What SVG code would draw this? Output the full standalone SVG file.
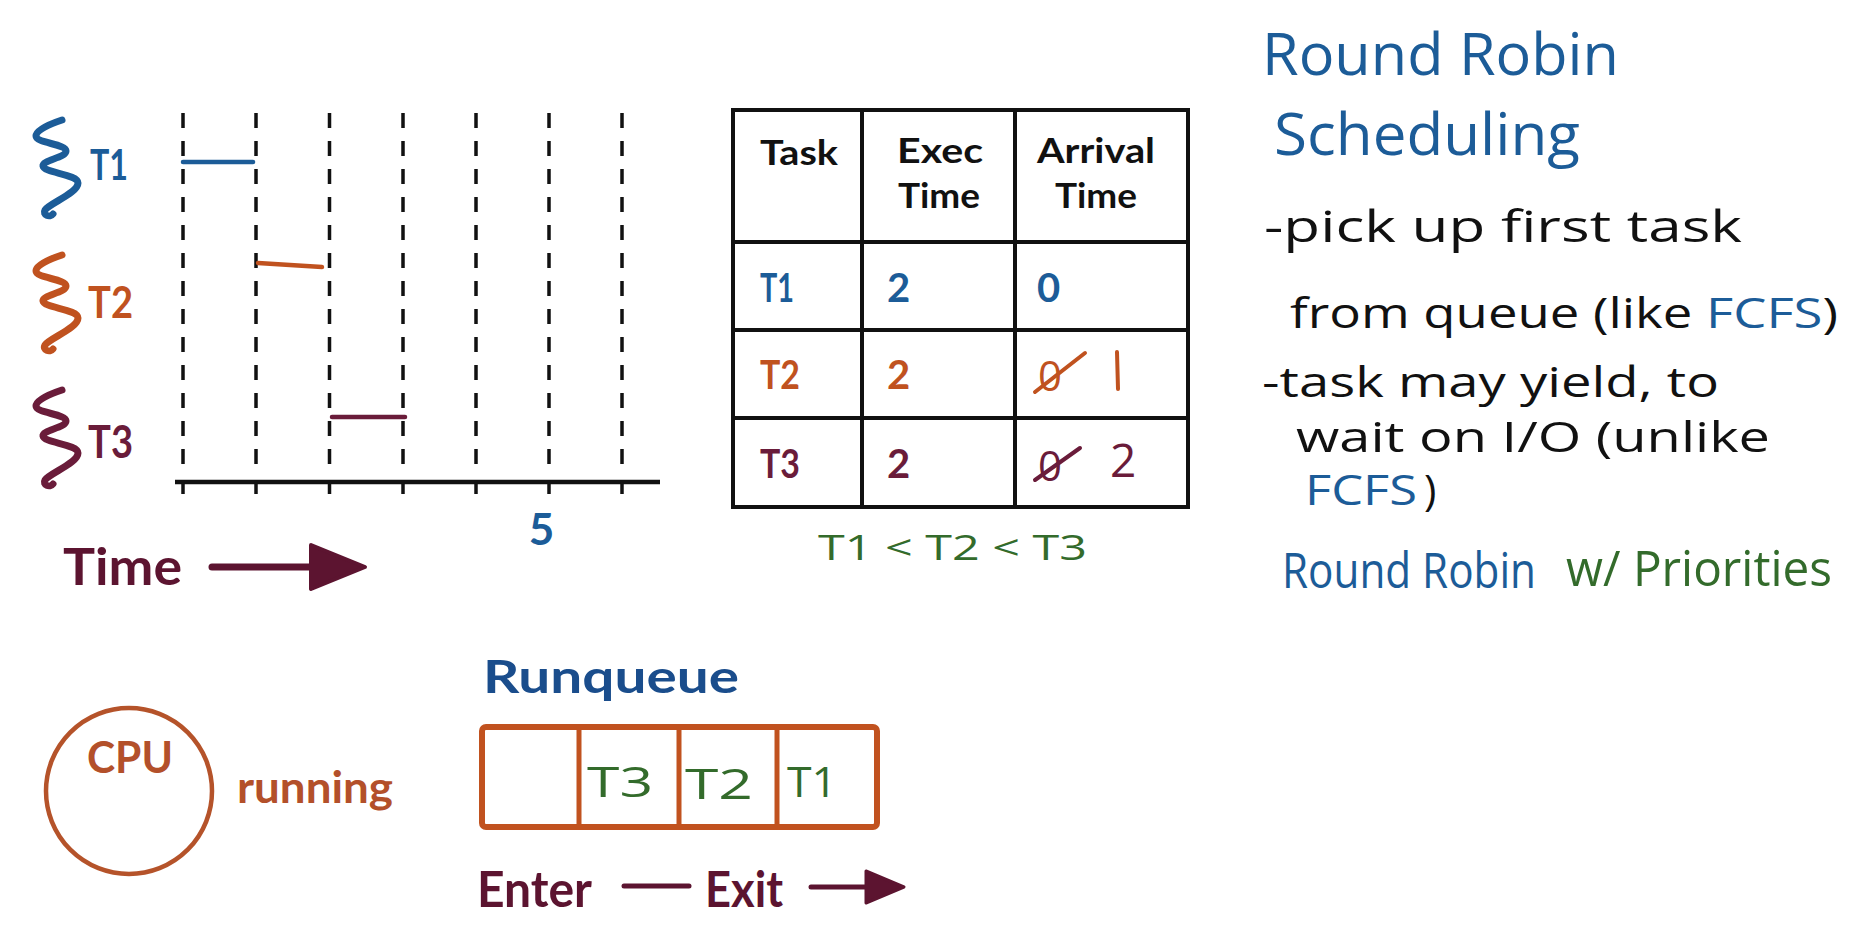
<svg xmlns="http://www.w3.org/2000/svg" width="1853" height="944" viewBox="0 0 1853 944">
<style>
.bold{font-family:Lato,"Open Sans","Liberation Sans",sans-serif;font-weight:700}
.hand{font-family:"Open Sans","Noto Sans","Liberation Sans",sans-serif;font-weight:400}
.blue{fill:#1c5c98}
.dblue{fill:#1a4d8c}
.orange{fill:#c0521f}
.maroon{fill:#6a1c3a}
.dmaroon{fill:#5c1430}
.green{fill:#336b2b}
.black{fill:#111}
.dash{stroke:#111;stroke-width:3.5;stroke-dasharray:15 13;fill:none}
.tick{stroke:#111;stroke-width:3.5}
.squig{fill:none;stroke-width:7;stroke-linecap:round;stroke-linejoin:round}
.grid{stroke:#111;stroke-width:4;fill:none}
</style>
<rect width="1853" height="944" fill="#fff"/>

<!-- Timeline chart -->
<g id="chart">
  <line class="dash" x1="183" y1="113" x2="183" y2="467"/>
  <line class="dash" x1="256" y1="113" x2="256" y2="467"/>
  <line class="dash" x1="329.5" y1="113" x2="329.5" y2="467"/>
  <line class="dash" x1="403" y1="113" x2="403" y2="467"/>
  <line class="dash" x1="476" y1="113" x2="476" y2="467"/>
  <line class="dash" x1="549" y1="113" x2="549" y2="467"/>
  <line class="dash" x1="622" y1="113" x2="622" y2="467"/>
  <line x1="175" y1="482" x2="660" y2="482" stroke="#111" stroke-width="4.5"/>
  <line class="tick" x1="183" y1="482" x2="183" y2="494"/>
  <line class="tick" x1="256" y1="482" x2="256" y2="494"/>
  <line class="tick" x1="329.5" y1="482" x2="329.5" y2="494"/>
  <line class="tick" x1="403" y1="482" x2="403" y2="494"/>
  <line class="tick" x1="476" y1="482" x2="476" y2="494"/>
  <line class="tick" x1="549" y1="482" x2="549" y2="494"/>
  <line class="tick" x1="622" y1="482" x2="622" y2="494"/>
  <text class="bold blue" x="541.5" y="545" font-size="44" text-anchor="middle">5</text>
  <line x1="183" y1="162" x2="253" y2="162" stroke="#1c5c98" stroke-width="4.5" stroke-linecap="round"/>
  <line x1="258" y1="263" x2="322" y2="267" stroke="#c0521f" stroke-width="4.5" stroke-linecap="round"/>
  <line x1="332" y1="417" x2="405" y2="417" stroke="#6a1c3a" stroke-width="4.5" stroke-linecap="round"/>
</g>

<g id="thread-t1">
  <path class="squig" stroke="#1c5c98" d="M62 120 C50 124 36 130 36 136 C36 143 66 144 66 151 C66 158 42 160 43 166 C44 173 78 174 78 183 C78 193 50 203 45 210 C42 215 50 218 53 214"/>
  <text class="bold blue" x="90" y="180" font-size="42" textLength="38" lengthAdjust="spacingAndGlyphs">T1</text>
</g>
<g id="thread-t2">
  <path class="squig" stroke="#c0521f" d="M62 255 C50 259 36 265 36 271 C36 278 66 279 66 286 C66 293 42 295 43 301 C44 308 78 309 78 318 C78 328 50 338 45 345 C42 350 50 353 53 349"/>
  <text class="bold orange" x="88" y="318" font-size="43" textLength="45" lengthAdjust="spacingAndGlyphs">T2</text>
</g>
<g id="thread-t3">
  <path class="squig" stroke="#6a1c3a" d="M62 390 C50 394 36 400 36 406 C36 413 66 414 66 421 C66 428 42 430 43 436 C44 443 78 444 78 453 C78 463 50 473 45 480 C42 485 50 488 53 484"/>
  <text class="bold maroon" x="88" y="458" font-size="45" textLength="45" lengthAdjust="spacingAndGlyphs">T3</text>
</g>

<g id="time-label">
  <text class="bold dmaroon" x="63" y="585" font-size="52" textLength="119" lengthAdjust="spacingAndGlyphs">Time</text>
  <line x1="212" y1="567" x2="315" y2="567" stroke="#5c1430" stroke-width="7" stroke-linecap="round"/>
  <polygon points="311,545 365,567 311,589" fill="#5c1430" stroke="#5c1430" stroke-width="4" stroke-linejoin="round"/>
</g>

<!-- Table -->
<g id="table">
  <rect class="grid" x="733" y="110" width="455" height="397"/>
  <line class="grid" x1="862" y1="110" x2="862" y2="507"/>
  <line class="grid" x1="1015" y1="110" x2="1015" y2="507"/>
  <line class="grid" x1="733" y1="242" x2="1188" y2="242"/>
  <line class="grid" x1="733" y1="330" x2="1188" y2="330"/>
  <line class="grid" x1="733" y1="418" x2="1188" y2="418"/>
  <text class="bold black" x="760" y="165" font-size="35" textLength="78" lengthAdjust="spacingAndGlyphs">Task</text>
  <text class="bold black" x="897" y="163" font-size="35" textLength="86" lengthAdjust="spacingAndGlyphs">Exec</text>
  <text class="bold black" x="898" y="208" font-size="35" textLength="82" lengthAdjust="spacingAndGlyphs">Time</text>
  <text class="bold black" x="1037" y="163" font-size="35" textLength="118" lengthAdjust="spacingAndGlyphs">Arrival</text>
  <text class="bold black" x="1055" y="208" font-size="35" textLength="82" lengthAdjust="spacingAndGlyphs">Time</text>
  <text class="bold blue" x="760" y="302" font-size="40" textLength="34" lengthAdjust="spacingAndGlyphs">T1</text>
  <text class="bold blue" x="887" y="302" font-size="40">2</text>
  <text class="bold blue" x="1037" y="302" font-size="40">0</text>
  <text class="bold orange" x="760" y="389" font-size="40" textLength="40" lengthAdjust="spacingAndGlyphs">T2</text>
  <text class="bold orange" x="887" y="389" font-size="40">2</text>
  <text class="hand orange" x="1038" y="391" font-size="42">0</text>
  <line x1="1035" y1="392" x2="1085" y2="353" stroke="#c0521f" stroke-width="4" stroke-linecap="round"/>
  <line x1="1117" y1="352" x2="1118" y2="389" stroke="#c0521f" stroke-width="4" stroke-linecap="round"/>
  <text class="bold maroon" x="760" y="478" font-size="40" textLength="40" lengthAdjust="spacingAndGlyphs">T3</text>
  <text class="bold maroon" x="887" y="478" font-size="40">2</text>
  <text class="hand maroon" x="1038" y="481" font-size="42">0</text>
  <line x1="1035" y1="480" x2="1080" y2="448" stroke="#6a1c3a" stroke-width="4" stroke-linecap="round"/>
  <text class="hand maroon" x="1110" y="477" font-size="46">2</text>
  <text class="hand green" x="818" y="560" font-size="34" textLength="269" lengthAdjust="spacingAndGlyphs">T1 &lt; T2 &lt; T3</text>
</g>

<!-- Notes -->
<g id="notes">
  <text class="hand blue" x="1262" y="75" font-size="58" textLength="357" lengthAdjust="spacingAndGlyphs">Round Robin</text>
  <text class="hand blue" x="1274" y="155" font-size="58" textLength="306" lengthAdjust="spacingAndGlyphs">Scheduling</text>
  <text class="hand black" x="1264" y="242" font-size="44" textLength="478" lengthAdjust="spacingAndGlyphs">-pick up first task</text>
  <text class="hand black" x="1290" y="328" font-size="42" textLength="548" lengthAdjust="spacingAndGlyphs">from queue (like <tspan class="blue">FCFS</tspan>)</text>
  <text class="hand black" x="1262" y="397" font-size="42" textLength="457" lengthAdjust="spacingAndGlyphs">-task may yield, to</text>
  <text class="hand black" x="1296" y="452" font-size="42" textLength="474" lengthAdjust="spacingAndGlyphs">wait on I/O (unlike</text>
  <text class="hand blue" x="1305" y="505" font-size="42" textLength="112" lengthAdjust="spacingAndGlyphs">FCFS</text>
  <text class="hand black" x="1424" y="505" font-size="42">)</text>
  <text class="hand blue" x="1282" y="588" font-size="50" textLength="254" lengthAdjust="spacingAndGlyphs">Round Robin</text>
  <text class="hand green" x="1566" y="586" font-size="50" textLength="266" lengthAdjust="spacingAndGlyphs">w/ Priorities</text>
</g>

<!-- CPU -->
<g id="cpu">
  <circle cx="129" cy="791" r="83" fill="none" stroke="#b5532a" stroke-width="4.5"/>
  <text class="bold" fill="#b3502a" x="130" y="773" font-size="44" text-anchor="middle" textLength="86" lengthAdjust="spacingAndGlyphs">CPU</text>
  <text class="bold" fill="#b3502a" x="237" y="803" font-size="44" textLength="156" lengthAdjust="spacingAndGlyphs">running</text>
</g>

<!-- Runqueue -->
<g id="runqueue">
  <text class="bold dblue" x="483" y="693" font-size="46" textLength="256" lengthAdjust="spacingAndGlyphs">Runqueue</text>
  <rect x="482" y="727" width="395" height="100" rx="4" fill="none" stroke="#c1521f" stroke-width="6"/>
  <line x1="579" y1="727" x2="579" y2="827" stroke="#c1521f" stroke-width="5"/>
  <line x1="679" y1="727" x2="679" y2="827" stroke="#c1521f" stroke-width="5"/>
  <line x1="777" y1="727" x2="777" y2="827" stroke="#c1521f" stroke-width="5"/>
  <text class="hand green" x="587" y="797" font-size="42" textLength="66" lengthAdjust="spacingAndGlyphs">T3</text>
  <text class="hand green" x="685" y="799" font-size="42" textLength="68" lengthAdjust="spacingAndGlyphs">T2</text>
  <text class="hand green" x="787" y="797" font-size="42" textLength="50" lengthAdjust="spacingAndGlyphs">T1</text>
</g>

<g id="enter-exit">
  <text class="bold dmaroon" x="477" y="907" font-size="50" textLength="115" lengthAdjust="spacingAndGlyphs">Enter</text>
  <line x1="624" y1="886" x2="689" y2="886" stroke="#5c1430" stroke-width="5" stroke-linecap="round"/>
  <text class="bold dmaroon" x="705" y="907" font-size="50" textLength="78" lengthAdjust="spacingAndGlyphs">Exit</text>
  <line x1="811" y1="887" x2="870" y2="887" stroke="#5c1430" stroke-width="5" stroke-linecap="round"/>
  <polygon points="866,871 904,887 866,903" fill="#5c1430" stroke="#5c1430" stroke-width="3" stroke-linejoin="round"/>
</g>
</svg>
